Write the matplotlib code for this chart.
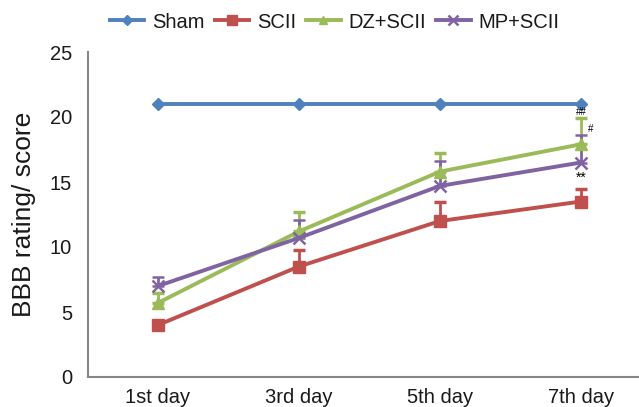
import numpy as np
import matplotlib
matplotlib.use('Agg')
import matplotlib.pyplot as plt
from matplotlib.lines import Line2D

plt.rcParams['font.family'] = ['Liberation Sans', 'DejaVu Sans']

days = ['1st day', '3rd day', '5th day', '7th day']
sham = [21, 21, 21, 21]
scii = [4.0, 8.5, 12.0, 13.5]
scii_err = [0.0, 1.3, 1.5, 1.0]
dz = [5.7, 11.2, 15.8, 17.9]
dz_err = [0.8, 1.5, 1.4, 2.0]
mp = [7.0, 10.7, 14.7, 16.5]
mp_err = [0.7, 1.4, 1.9, 2.1]

fig = plt.figure(figsize=(6.39, 4.07), dpi=100)
ax = fig.add_axes([87.5 / 639, 30 / 407, 564 / 639, 325 / 407])

x = np.arange(len(days))
blue, red, green, purple = '#4F81BD', '#C0504D', '#9BBB59', '#8064A2'

ax.plot(x, sham, '-D', color=blue, lw=2.8, ms=6)
ax.errorbar(x, scii, yerr=[np.zeros(4), scii_err], fmt='-s', color=red, lw=2.8,
            ms=8, capsize=4, capthick=2.5, elinewidth=2)
ax.errorbar(x, dz, yerr=[np.zeros(4), dz_err], fmt='-^', color=green, lw=2.8,
            ms=8, capsize=4, capthick=2.5, elinewidth=2)
ax.errorbar(x, mp, yerr=[np.zeros(4), mp_err], fmt='-x', color=purple, lw=2.8,
            ms=8, mew=1.8, capsize=4, capthick=2.5, elinewidth=2)

# significance marks
ax.text(3, 20.35, '##', fontsize=7, ha='center', va='center')
ax.text(3.07, 19.1, '#', fontsize=7, ha='center', va='center')
ax.text(3, 15.3, '**', fontsize=10, ha='center', va='center')

ax.set_xlim(-0.5, 3.5)
ax.set_ylim(0, 25)
ax.set_xticks(x)
ax.set_xticklabels(days)
ax.set_yticks([0, 5, 10, 15, 20, 25])
ax.tick_params(length=0, labelsize=14.5, pad=11, labelcolor='#1a1a1a')
ax.tick_params(axis='x', pad=8)
ax.set_ylabel('BBB rating/ score', fontsize=19, labelpad=10, color='#1a1a1a')

for s in ['top', 'right']:
    ax.spines[s].set_visible(False)
for s in ['left', 'bottom']:
    ax.spines[s].set_color('#868686')
    ax.spines[s].set_linewidth(1.5)

handles = [
    Line2D([], [], color=blue, lw=2.8, marker='D', ms=5),
    Line2D([], [], color=red, lw=2.8, marker='s', ms=7),
    Line2D([], [], color=green, lw=2.8, marker='^', ms=6),
    Line2D([], [], color=purple, lw=2.8, marker='x', ms=7, mew=1.8),
]
labels = ['Sham', 'SCII', 'DZ+SCII', 'MP+SCII']
fig.legend(handles, labels, loc='center', bbox_to_anchor=(0.524, 1 - 22 / 407),
           ncol=4, frameon=False, fontsize=14.5, handlelength=1.7,
           handletextpad=0.4, columnspacing=0.5, labelcolor='#1a1a1a')

fig.savefig('out.png', dpi=100)
